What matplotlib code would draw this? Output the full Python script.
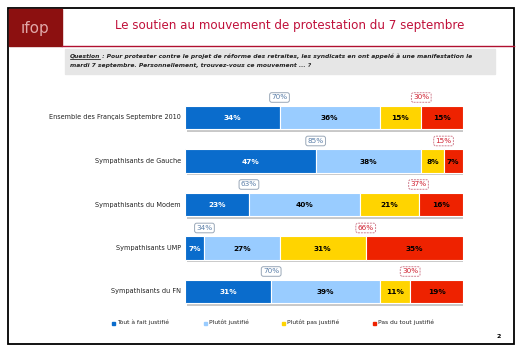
import matplotlib
matplotlib.use("Agg")
import matplotlib.pyplot as plt
from matplotlib.patches import Rectangle

# data
categories = ["Ensemble des Français Septembre 2010", "Sympathisants de Gauche",
              "Sympathisants du Modem", "Sympathisants UMP", "Sympathisants du FN"]
tout_a_fait = [34, 47, 23, 7, 31]
plutot = [36, 38, 40, 27, 39]
plutot_pas = [15, 8, 21, 31, 11]
pas_du_tout = [15, 7, 16, 35, 19]
total_justifie = [70, 85, 63, 34, 70]
total_pas = [30, 15, 37, 66, 30]
series_names = ["Tout à fait justifié", "Plutôt justifié", "Plutôt pas justifié", "Pas du tout justifié"]
colors = ["#0a6ccc", "#99ccff", "#ffd400", "#ee2200"]

W, H = 522, 357
fig = plt.figure(figsize=(W / 100, H / 100), dpi=100)

# background / slide decoration in pixel coords
bg = fig.add_axes([0, 0, 1, 1])
bg.set_xlim(0, W)
bg.set_ylim(H, 0)
bg.axis("off")
bg.add_patch(Rectangle((8, 8), 506, 336, fill=False, ec="black", lw=1.3))
bg.add_patch(Rectangle((9, 9), 53, 37, color="#8c1010"))
bg.text(35, 29, "ıfop", color="#e0a8a8", fontsize=11, ha="center", va="center")
bg.plot([62, 514], [46, 46], color="#b01030", lw=1.0)
bg.text(290, 25, "Le soutien au mouvement de protestation du 7 septembre",
        color="#c0103a", fontsize=8.6, ha="center", va="center")
bg.add_patch(Rectangle((65, 49), 430, 25, color="#e6e6e6"))
qfont = dict(fontsize=4.3, style="italic", weight="bold", va="center", color="#222222")
q = bg.text(70, 56, "Question", **qfont)
r = fig.canvas.get_renderer()
bb = q.get_window_extent(renderer=r)
qx1 = 70 + bb.width
bg.plot([70, qx1], [59.3, 59.3], color="black", lw=0.5)
bg.text(qx1, 56, " : Pour protester contre le projet de réforme des retraites, les syndicats en ont appelé à une manifestation le",
        **qfont)
bg.text(70, 66, "mardi 7 septembre. Personnellement, trouvez-vous ce mouvement ... ?", **qfont)
bg.text(499, 336, "2", fontsize=4.5, weight="bold", ha="center", va="center")

# bar axes
top_px, step = 117.5, 43.5
y0 = top_px - step / 2
y1 = top_px + 4 * step + step / 2
x0, x1 = 185, 463
ax = fig.add_axes([x0 / W, 1 - y1 / H, (x1 - x0) / W, (y1 - y0) / H])
ax.set_xlim(0, 100)
ax.set_ylim(4.5, -0.5)
ax.axis("off")

h = 0.54
rows = range(len(categories))
totals = [a + b + c + d for a, b, c, d in zip(tout_a_fait, plutot, plutot_pas, pas_du_tout)]
ax.barh([i + 0.06 for i in rows], totals, left=0.8, height=h, color="#c8c8c8", zorder=1)

left = [0] * len(categories)
for vals, col, name in zip([tout_a_fait, plutot, plutot_pas, pas_du_tout], colors, series_names):
    ax.barh(list(rows), vals, left=left, height=h, color=col, ec="white", lw=0.8, zorder=2, label=name)
    for i, v in enumerate(vals):
        tc = "white" if col == colors[0] else "black"
        ax.text(left[i] + v / 2, i + 0.02, f"{v}%", ha="center", va="center",
                fontsize=5.3, weight="bold", color=tc, zorder=3)
    left = [l + v for l, v in zip(left, vals)]

for i in rows:
    ax.text(-1.5, i, categories[i], ha="right", va="center",
            fontsize=4.7, color="#222222", clip_on=False)
    ax.text(tout_a_fait[i], i - h / 2 - 0.19, f"{total_justifie[i]}%", ha="center", va="center",
            fontsize=5.2, color="#5a7ea8", zorder=4,
            bbox=dict(boxstyle="round,pad=0.25,rounding_size=0.3", fc="white", ec="#9aa8b8", lw=0.7))
    ax.text(100 - pas_du_tout[i], i - h / 2 - 0.19, f"{total_pas[i]}%", ha="center", va="center",
            fontsize=5.2, color="#d02030", zorder=4,
            bbox=dict(boxstyle="round,pad=0.25,rounding_size=0.3", fc="white", ec="#d08090", lw=0.7, ls=(0, (2, 1))))

# legend
leg_x = [113, 205, 283, 374]
for xx, col, name in zip(leg_x, colors, series_names):
    bg.add_patch(Rectangle((xx - 1.5, 321.5), 3, 3, color=col))
    bg.text(xx + 4, 322.5, name, fontsize=4.3, va="center", color="#222222")

fig.savefig("out.png", dpi=100)
